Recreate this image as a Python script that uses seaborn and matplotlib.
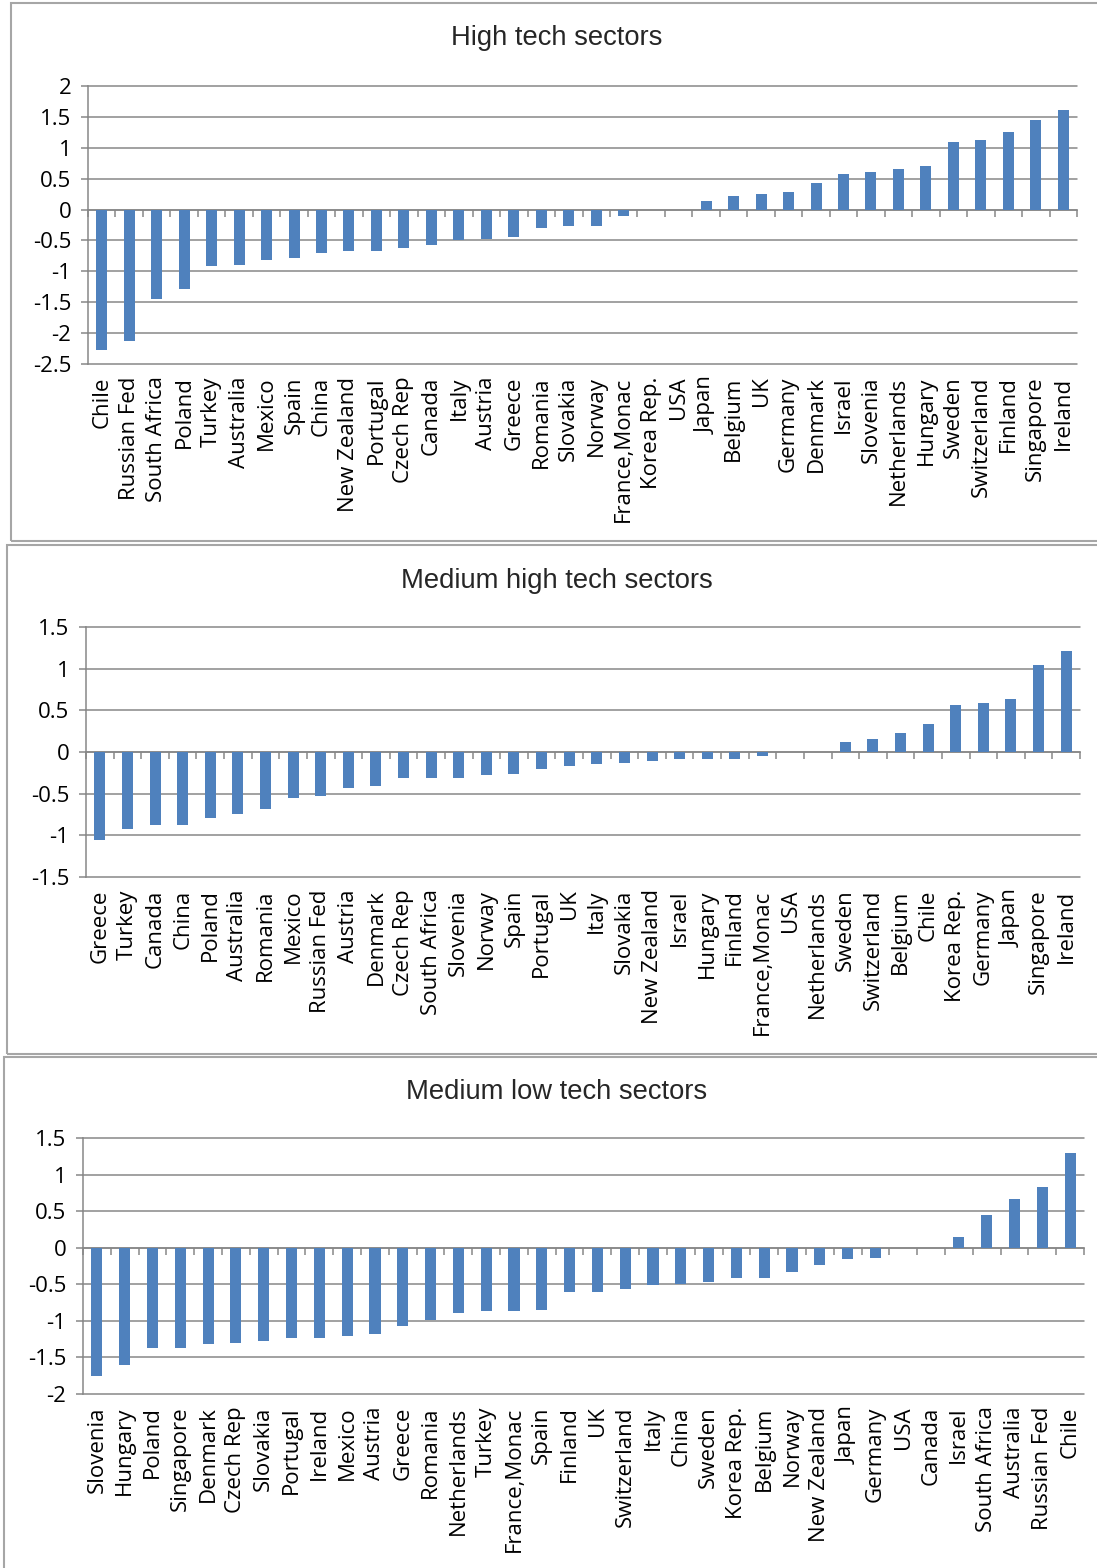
import matplotlib
matplotlib.use("Agg")
import matplotlib.pyplot as plt
import matplotlib.patches as patches
import matplotlib.ticker as mticker
import numpy as np
import pandas as pd
import seaborn as sns

# --- data ---
high_countries = ["Chile", "Russian Fed", "South Africa", "Poland", "Turkey", "Australia",
                  "Mexico", "Spain", "China", "New Zealand", "Portugal", "Czech Rep",
                  "Canada", "Italy", "Austria", "Greece", "Romania", "Slovakia", "Norway",
                  "France,Monac", "Korea Rep.", "USA", "Japan", "Belgium", "UK", "Germany",
                  "Denmark", "Israel", "Slovenia", "Netherlands", "Hungary", "Sweden",
                  "Switzerland", "Finland", "Singapore", "Ireland"]
high_values = [-2.28, -2.13, -1.45, -1.28, -0.92, -0.89, -0.81, -0.79, -0.70, -0.67,
               -0.67, -0.62, -0.57, -0.49, -0.48, -0.44, -0.30, -0.27, -0.26, -0.11,
               0.0, 0.0, 0.14, 0.22, 0.25, 0.29, 0.43, 0.58, 0.61, 0.65, 0.70, 1.09,
               1.12, 1.25, 1.45, 1.61]

medhigh_countries = ["Greece", "Turkey", "Canada", "China", "Poland", "Australia", "Romania",
                     "Mexico", "Russian Fed", "Austria", "Denmark", "Czech Rep",
                     "South Africa", "Slovenia", "Norway", "Spain", "Portugal", "UK", "Italy",
                     "Slovakia", "New Zealand", "Israel", "Hungary", "Finland",
                     "France,Monac", "USA", "Netherlands", "Sweden", "Switzerland",
                     "Belgium", "Chile", "Korea Rep.", "Germany", "Japan", "Singapore",
                     "Ireland"]
medhigh_values = [-1.06, -0.93, -0.88, -0.88, -0.79, -0.74, -0.69, -0.55, -0.53, -0.43,
                  -0.41, -0.31, -0.31, -0.31, -0.28, -0.27, -0.21, -0.17, -0.14, -0.13,
                  -0.11, -0.09, -0.08, -0.08, -0.05, 0.0, 0.0, 0.12, 0.15, 0.23, 0.33,
                  0.56, 0.59, 0.64, 1.04, 1.21]

medlow_countries = ["Slovenia", "Hungary", "Poland", "Singapore", "Denmark", "Czech Rep",
                    "Slovakia", "Portugal", "Ireland", "Mexico", "Austria", "Greece",
                    "Romania", "Netherlands", "Turkey", "France,Monac", "Spain", "Finland",
                    "UK", "Switzerland", "Italy", "China", "Sweden", "Korea Rep.",
                    "Belgium", "Norway", "New Zealand", "Japan", "Germany", "USA", "Canada",
                    "Israel", "South Africa", "Australia", "Russian Fed", "Chile"]
medlow_values = [-1.76, -1.61, -1.37, -1.37, -1.32, -1.30, -1.27, -1.23, -1.23, -1.21,
                 -1.18, -1.07, -0.99, -0.89, -0.86, -0.86, -0.85, -0.61, -0.60, -0.56,
                 -0.51, -0.50, -0.47, -0.42, -0.41, -0.33, -0.23, -0.16, -0.14, 0.0, 0.0,
                 0.15, 0.45, 0.67, 0.83, 1.30]

titles = ["High tech sectors", "Medium high tech sectors", "Medium low tech sectors"]

BLUE = "#4F81BD"
GRID = "#878787"
FRAME = "#A6A6A6"
W, H = 1097, 1568

sns.set_theme(style="white")
plt.rcParams["font.family"] = ["Open Sans", "DejaVu Sans"]
plt.rcParams["axes.unicode_minus"] = False


def box(left, top, right, bottom):
    return [left / W, 1 - bottom / H, (right - left) / W, (bottom - top) / H]


def panel(fig, axbox, title, title_y, frame, countries, values, ylim):
    # chart frame like the spreadsheet export
    fx0, fy0, fy1 = frame
    fig.add_artist(patches.Rectangle((fx0 / W, 1 - fy1 / H), (W + 10 - fx0) / W,
                                     (fy1 - fy0) / H, transform=fig.transFigure,
                                     fill=False, ec=FRAME, lw=1.5, clip_on=False))
    fig.text(557 / W, 1 - title_y / H, title, ha="center", va="center",
             fontsize=19.7, family="Liberation Sans")

    ax = fig.add_axes(box(*axbox))
    df = pd.DataFrame({"country": countries, "value": values})
    sns.barplot(data=df, x="country", y="value", color=BLUE, saturation=1,
                width=0.4, linewidth=0, ax=ax)
    ax.set_xlabel("")
    ax.set_ylabel("")
    ax.set_xlim(-0.5, len(countries) - 0.5)
    ax.set_ylim(*ylim)
    ax.set_yticks(np.arange(ylim[0], ylim[1] + 0.01, 0.5))
    ax.yaxis.set_major_formatter(mticker.FuncFormatter(lambda v, p: f"{v:g}"))
    ax.yaxis.grid(True, color=GRID, lw=1.1)
    for gl in ax.get_ygridlines():
        gl.set_clip_on(False)
    ax.set_axisbelow(True)

    for s in ["top", "right", "bottom"]:
        ax.spines[s].set_visible(False)
    ax.spines["left"].set_color(GRID)
    ax.spines["left"].set_linewidth(1.1)
    ax.tick_params(axis="y", left=True, direction="out", length=5, width=1.1,
                   color=GRID, labelsize=16, pad=7, labelcolor="black")
    ax.tick_params(axis="x", length=0, labelsize=16, pad=9, labelcolor="black",
                   labelrotation=90)

    # category axis crossing at zero with tick marks between bars
    loc = (0 - ylim[0]) / (ylim[1] - ylim[0])
    sec = ax.secondary_xaxis(loc)
    sec.set_alignment("bottom")
    sec.set_xticks(np.arange(-0.5, len(countries), 1.0))
    sec.tick_params(axis="x", direction="out", length=5, width=1.1, color=GRID,
                    labelbottom=False, labeltop=False)
    sec.spines["bottom"].set_color(GRID)
    sec.spines["bottom"].set_linewidth(1.1)
    return ax


fig = plt.figure(figsize=(W / 100, H / 100), dpi=100)
panel(fig, (88, 86, 1077, 364), titles[0], 38, (11, 3, 541),
      high_countries, high_values, (-2.5, 2))
panel(fig, (86, 627, 1080, 877), titles[1], 581, (7, 545, 1054),
      medhigh_countries, medhigh_values, (-1.5, 1.5))
panel(fig, (83, 1138, 1084, 1394), titles[2], 1092, (4, 1057, 1580),
      medlow_countries, medlow_values, (-2, 1.5))

fig.savefig("out.png", dpi=100)
